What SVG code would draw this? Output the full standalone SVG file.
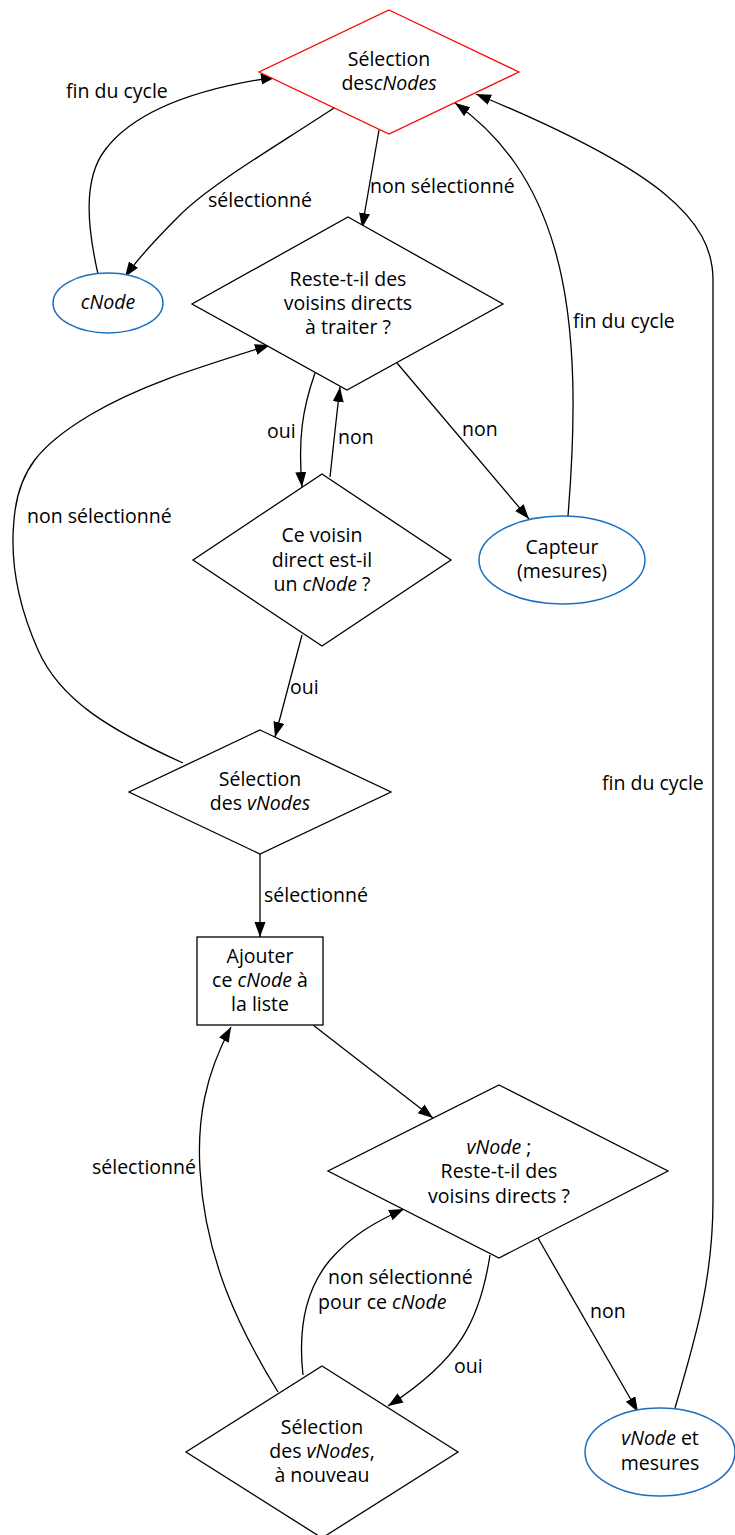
<svg xmlns="http://www.w3.org/2000/svg" width="735" height="1535" viewBox="0 0 735 1535">
<defs>
<style>
text{font-family:"Open Sans","Noto Sans","Liberation Sans",sans-serif;font-size:19.5px;fill:#000}
.c{text-anchor:middle}
.i{font-style:italic}
.shape{fill:#fff;stroke:#000;stroke-width:1.3}
.red{fill:#fff;stroke:#ff0000;stroke-width:1.3}
.ell{fill:#fff;stroke:#1a6fc0;stroke-width:1.5}
.e{fill:none;stroke:#000;stroke-width:1.3;marker-end:url(#ah)}
</style>
<marker id="ah" markerUnits="userSpaceOnUse" markerWidth="16" markerHeight="12" refX="15" refY="5.5" orient="auto">
<path d="M0,0 L15,5.5 L0,11 z" fill="#000"/>
</marker>
</defs>
<rect width="735" height="1535" fill="#fff"/>
<g id="connectors">
<path class="e" d="M334,108 C270,150 210,185 180,215 C155,240 138,258 125,277"/>
<text x="208" y="207">sélectionné</text>
<path class="e" d="M98,274 C88,230 82,180 105,150 C135,110 200,88 276,77"/>
<text x="66" y="98">fin du cycle</text>
<path class="e" d="M379,130 L362,228"/>
<text x="370" y="193">non sélectionné</text>
<path class="e" d="M568,516 C575,430 578,330 555,250 C535,180 500,135 455,103"/>
<text x="573" y="328">fin du cycle</text>
<path class="e" d="M675,1408 C695,1340 713,1280 713,1200 L713,280 C713,220 660,170 476,94"/>
<text x="602" y="790">fin du cycle</text>
<path class="e" d="M315,373 C302,410 298,440 302,487"/>
<text x="267" y="438">oui</text>
<path class="e" d="M330,477 C333,450 336,420 340,387"/>
<text x="338" y="444">non</text>
<path class="e" d="M397,363 L529,519"/>
<text x="462" y="436">non</text>
<path class="e" d="M183,763 C110,730 60,700 38,650 C18,605 10,560 14,520 C18,470 40,445 90,415 C140,385 200,367 270,345"/>
<text x="27" y="523">non sélectionné</text>
<path class="e" d="M302,635 L275,737"/>
<text x="290" y="694">oui</text>
<path class="e" d="M260,854 L260,937"/>
<text x="264" y="902">sélectionné</text>
<path class="e" d="M313,1025 L433,1118"/>
<path class="e" d="M278,1392 C240,1330 205,1260 200,1170 C197,1120 205,1075 231,1027"/>
<text x="92" y="1174">sélectionné</text>
<path class="e" d="M303,1375 C298,1330 305,1290 330,1260 C352,1235 375,1222 404,1209"/>
<text x="328" y="1284">non sélectionné</text>
<text x="318" y="1309">pour ce <tspan class="i">cNode</tspan></text>
<path class="e" d="M490,1255 C480,1320 460,1360 388,1406"/>
<text x="454" y="1373">oui</text>
<path class="e" d="M538,1238 L638,1412"/>
<text x="590" y="1318">non</text>
</g>
<g id="selection-cnodes">
<polygon class="red" points="389,10 519,72 389,134 259,72"/>
<text class="c" x="389" y="66">Sélection</text>
<text class="c" x="389" y="90">des<tspan class="i">cNodes</tspan></text>
</g>
<g id="cnode">
<ellipse class="ell" cx="108" cy="303" rx="55" ry="30"/>
<text class="c i" x="108" y="309">cNode</text>
</g>
<g id="reste-voisins">
<polygon class="shape" points="348,217 503,304 347,390 192,304"/>
<text class="c" x="348" y="286">Reste-t-il des</text>
<text class="c" x="348" y="310">voisins directs</text>
<text class="c" x="348" y="334">à traiter ?</text>
</g>
<g id="ce-voisin">
<polygon class="shape" points="322,474 451,560 322,646 193,560"/>
<text class="c" x="322" y="542">Ce voisin</text>
<text class="c" x="322" y="567">direct est-il</text>
<text class="c" x="322" y="591">un <tspan class="i">cNode</tspan> ?</text>
</g>
<g id="capteur">
<ellipse class="ell" cx="562" cy="560" rx="83" ry="44"/>
<text class="c" x="562" y="554">Capteur</text>
<text class="c" x="562" y="578">(mesures)</text>
</g>
<g id="selection-vnodes">
<polygon class="shape" points="260,730 391,792 260,854 129,792"/>
<text class="c" x="260" y="786">Sélection</text>
<text class="c" x="260" y="810">des <tspan class="i">vNodes</tspan></text>
</g>
<g id="ajouter">
<rect class="shape" x="197" y="937" width="126" height="88"/>
<text class="c" x="260" y="963">Ajouter</text>
<text class="c" x="260" y="987">ce <tspan class="i">cNode</tspan> à</text>
<text class="c" x="260" y="1011">la liste</text>
</g>
<g id="vnode-reste">
<polygon class="shape" points="499,1085 668,1171 499,1258 328,1171"/>
<text class="c" x="499" y="1154"><tspan class="i">vNode</tspan> ;</text>
<text class="c" x="499" y="1178">Reste-t-il des</text>
<text class="c" x="499" y="1203">voisins directs ?</text>
</g>
<g id="selection-vnodes-nouveau">
<polygon class="shape" points="322,1366 458,1452 322,1538 186,1452"/>
<text class="c" x="322" y="1434">Sélection</text>
<text class="c" x="322" y="1458">des <tspan class="i">vNodes</tspan>,</text>
<text class="c" x="322" y="1482">à nouveau</text>
</g>
<g id="vnode-mesures">
<ellipse class="ell" cx="660" cy="1452" rx="75" ry="44"/>
<text class="c" x="660" y="1445"><tspan class="i">vNode</tspan> et</text>
<text class="c" x="660" y="1470">mesures</text>
</g>
</svg>
